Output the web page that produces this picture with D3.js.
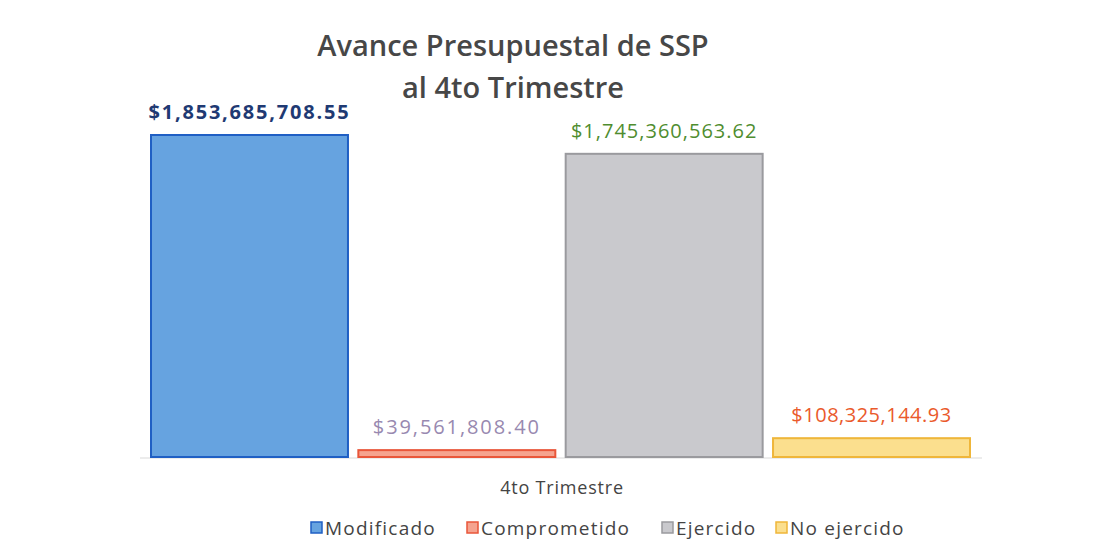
<!DOCTYPE html>
<html>
<head>
<meta charset="utf-8">
<script src="https://cdn.jsdelivr.net/npm/d3@7"></script>
<style>
  body { margin: 0; background: #fff; }
</style>
</head>
<body>
<div id="grafico"></div>
<script>
// datos del gráfico
const categoria = ['4to Trimestre'];
const series = ['Modificado', 'Comprometido', 'Ejercido', 'No ejercido'];
const valores = [1853685708.55, 39561808.40, 1745360563.62, 108325144.93];
const etiquetas = ['$1,853,685,708.55', '$39,561,808.40', '$1,745,360,563.62', '$108,325,144.93'];

const relleno = ['#66a3e0', '#f5a38f', '#c9c9cd', '#fbdf8e'];
const borde = ['#1f5fc4', '#e9563a', '#9a9a9e', '#efb63a'];
const colorEtiqueta = ['#1f3a73', '#9889b0', '#4f8d2f', '#ea5a2b'];
const pesoEtiqueta = ['700', '400', '500', '500'];
const espacioEtiqueta = [1.8, 1.9, 1.0, 0.5];

const ancho = 1100, alto = 548;
const svg = d3.select('#grafico').append('svg')
  .attr('width', ancho).attr('height', alto);

// escalas
const x0 = d3.scaleBand().domain(categoria).range([151, 970]);
const x1 = d3.scaleBand().domain(series).range([0, x0.bandwidth()]).paddingInner(0.05);
const y = d3.scaleLinear().domain([0, 1853685708.55]).range([457, 135]);

// eje
svg.append('line')
  .attr('x1', 140).attr('x2', 982)
  .attr('y1', y(0) + 1).attr('y2', y(0) + 1)
  .attr('stroke', '#d9d9d9').attr('stroke-width', 1);

// barras
svg.selectAll('.barra')
  .data(valores)
  .enter().append('rect')
  .attr('class', 'barra')
  .attr('x', (d, i) => x0(categoria[0]) + x1(series[i]))
  .attr('y', d => y(d))
  .attr('width', x1.bandwidth())
  .attr('height', d => y(0) - y(d))
  .attr('fill', (d, i) => relleno[i])
  .attr('stroke', (d, i) => borde[i])
  .attr('stroke-width', 2);

// etiquetas de valor
svg.selectAll('.etiqueta')
  .data(valores)
  .enter().append('text')
  .attr('x', (d, i) => x0(categoria[0]) + x1(series[i]) + x1.bandwidth() / 2)
  .attr('y', d => y(d) - 16)
  .attr('text-anchor', 'middle')
  .style('font-family', '"Open Sans", sans-serif')
  .style('font-size', '20px')
  .style('font-weight', (d, i) => pesoEtiqueta[i])
  .style('letter-spacing', (d, i) => espacioEtiqueta[i] + 'px')
  .attr('fill', (d, i) => colorEtiqueta[i])
  .text((d, i) => etiquetas[i]);

// título
const titulo = svg.append('text')
  .attr('text-anchor', 'middle')
  .style('font-family', '"Open Sans", sans-serif')
  .style('font-size', '29px')
  .style('font-weight', '600')
  .attr('fill', '#474747');
titulo.append('tspan').attr('x', 513).attr('y', 56).text('Avance Presupuestal de SSP');
titulo.append('tspan').attr('x', 513).attr('y', 98).text('al 4to Trimestre');

// categoría
svg.append('text')
  .attr('x', 562)
  .attr('y', 494)
  .attr('text-anchor', 'middle')
  .style('font-family', '"Open Sans", sans-serif')
  .style('font-size', '18px')
  .style('letter-spacing', '0.8px')
  .attr('fill', '#444')
  .text(categoria[0]);

// leyenda
const posLeyenda = [311, 467, 662, 776];
const leyenda = svg.selectAll('.leyenda')
  .data(series)
  .enter().append('g')
  .attr('transform', (d, i) => `translate(${posLeyenda[i]}, 528)`);
leyenda.append('rect')
  .attr('x', 0).attr('y', -6).attr('width', 11).attr('height', 11)
  .attr('fill', (d, i) => relleno[i])
  .attr('stroke', (d, i) => borde[i])
  .attr('stroke-width', 1.5);
leyenda.append('text')
  .attr('x', 14).attr('y', 7)
  .style('font-family', '"Open Sans", sans-serif')
  .style('font-size', '19px')
  .style('letter-spacing', '1.2px')
  .attr('fill', '#444')
  .text(d => d);
</script>
</body>
</html>
